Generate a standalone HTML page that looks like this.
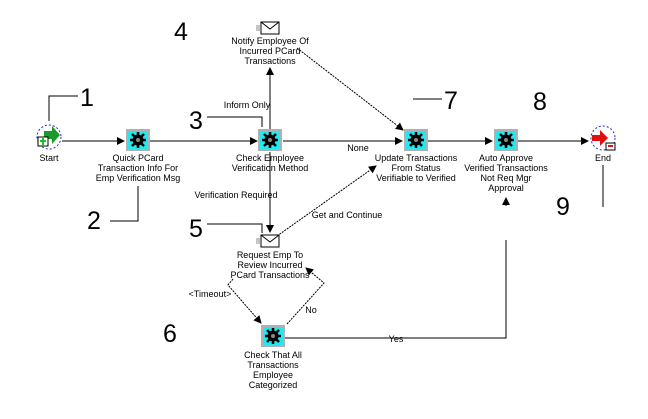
<!DOCTYPE html>
<html><head><meta charset="utf-8"><style>
html,body{margin:0;padding:0;background:#fff;}
svg{display:block}
text{font-family:"Liberation Sans",sans-serif;}
.s{font-size:9px;fill:#000;text-anchor:middle}
.n{font-size:25px;fill:#000}
</style></head><body>
<svg width="648" height="419" viewBox="0 0 648 419" xmlns="http://www.w3.org/2000/svg">
<defs>
<marker id="a" markerWidth="8" markerHeight="8" refX="7" refY="4" orient="auto" markerUnits="userSpaceOnUse"><path d="M0,0 L8,4 L0,8 z" fill="#000"/></marker>
<g id="gear"><rect x="-12" y="-11" width="24" height="22" fill="#b0b0b0"/><rect x="-10" y="-9" width="20" height="18" fill="#22e8f0"/><circle cx="0" cy="0" r="5.5" fill="#000"/><path d="M0,-8V8M-8,0H8M-6,-6L6,6M-6,6L6,-6" stroke="#000" stroke-width="2.5"/><circle cx="0" cy="0" r="2" fill="#888"/></g>
<g id="env"><rect x="-9" y="-6" width="18" height="12" fill="#fff" stroke="#000" stroke-width="1"/><path d="M-9,-6L0,1L9,-6" fill="none" stroke="#000"/><path d="M-14,-2h4M-14,0h4M-14,2h4" stroke="#888"/></g>
</defs>
<g stroke="#000" stroke-width="1" fill="none">
<!-- main line -->
<path d="M62,141H124" marker-end="url(#a)"/>
<path d="M150,141H257" marker-end="url(#a)"/>
<path d="M283,141H402" marker-end="url(#a)"/>
<path d="M428,141H492" marker-end="url(#a)"/>
<path d="M518,141H588" marker-end="url(#a)"/>
<path d="M270,130V68" marker-end="url(#a)"/>
<path d="M270,152V232" marker-end="url(#a)"/>
<path d="M297,48L403,130" stroke-dasharray="2,1" marker-end="url(#a)"/>
<path d="M277,236L376,166" stroke-dasharray="2,1" marker-end="url(#a)"/>
<path d="M233,279L228,285L261,323" stroke-dasharray="2,1" marker-end="url(#a)"/>
<path d="M287,324L324,283L306,268" stroke-dasharray="2,1" marker-end="url(#a)"/>
<path d="M285,338H506V240"/>
<path d="M506,206V198" marker-end="url(#a)"/>
<!-- callouts -->
<path d="M49,121V96H78"/>
<path d="M110,221H138V186"/>
<path d="M207,117H262V127"/>
<path d="M207,224H262V233"/>
<path d="M413,99H442"/>
<path d="M603,165V207"/>
</g>
<!-- start -->
<circle cx="49" cy="137" r="12" fill="none" stroke="#2030d0" stroke-dasharray="2,2"/>
<path d="M44,131h8v-5l8,9l-8,9v-5h-8z" fill="#1a9a2a"/>
<rect x="38" y="137" width="10" height="9" fill="#fff" stroke="#000"/><path d="M43,138v7M40,141h6" stroke="#1ac02a" stroke-width="2"/>
<text class="s" x="49" y="161">Start</text>
<!-- end -->
<circle cx="603" cy="138" r="12" fill="none" stroke="#2030d0" stroke-dasharray="2,2"/>
<path d="M592,135h8v-5l8,8l-8,8v-5h-8z" fill="#e01010"/>
<rect x="606" y="143" width="9" height="7" fill="#fff" stroke="#000"/><path d="M608,146h5" stroke="#e01010" stroke-width="2"/>
<text class="s" x="603" y="161">End</text>
<use href="#gear" x="138" y="140"/>
<use href="#gear" x="270" y="140"/>
<use href="#gear" x="416" y="140"/>
<use href="#gear" x="506" y="140"/>
<use href="#gear" x="273" y="336"/>
<use href="#env" x="270" y="28"/>
<use href="#env" x="270" y="241"/>
<text class="s" x="138" y="161">Quick PCard</text>
<text class="s" x="138" y="171">Transaction Info For</text>
<text class="s" x="138" y="181">Emp Verification Msg</text>
<text class="s" x="270" y="161">Check Employee</text>
<text class="s" x="270" y="171">Verification Method</text>
<text class="s" x="270" y="44">Notify Employee Of</text>
<text class="s" x="270" y="54">Incurred PCard</text>
<text class="s" x="270" y="64">Transactions</text>
<text class="s" x="416" y="161">Update Transactions</text>
<text class="s" x="416" y="171">From Status</text>
<text class="s" x="416" y="181">Verifiable to Verified</text>
<text class="s" x="506" y="161">Auto Approve</text>
<text class="s" x="506" y="171">Verified Transactions</text>
<text class="s" x="506" y="181">Not Req Mgr</text>
<text class="s" x="506" y="191">Approval</text>
<text class="s" x="270" y="258">Request Emp To</text>
<text class="s" x="270" y="268">Review Incurred</text>
<text class="s" x="270" y="278">PCard Transactions</text>
<text class="s" x="273" y="358">Check That All</text>
<text class="s" x="273" y="368">Transactions</text>
<text class="s" x="273" y="378">Employee</text>
<text class="s" x="273" y="388">Categorized</text>
<text class="s" x="247" y="108">Inform Only</text>
<text class="s" x="236" y="198">Verification Required</text>
<text class="s" x="358" y="151">None</text>
<text class="s" x="347" y="218">Get and Continue</text>
<text class="s" x="210" y="297">&lt;Timeout&gt;</text>
<text class="s" x="311" y="313">No</text>
<text class="s" x="396" y="342">Yes</text>
<text class="n" x="80" y="106">1</text>
<text class="n" x="87" y="229">2</text>
<text class="n" x="189" y="129">3</text>
<text class="n" x="174" y="40">4</text>
<text class="n" x="189" y="237">5</text>
<text class="n" x="163" y="342">6</text>
<text class="n" x="444" y="109">7</text>
<text class="n" x="533" y="110">8</text>
<text class="n" x="556" y="215">9</text>
</svg>
</body></html>
